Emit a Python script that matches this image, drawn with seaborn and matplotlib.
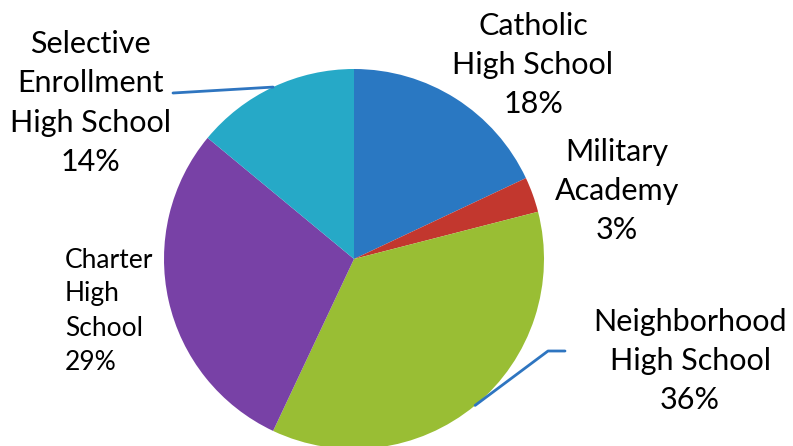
import numpy as np
import seaborn as sns
import matplotlib.pyplot as plt

# Dados do gráfico
categorias = ["Catholic\nHigh School", "Military\nAcademy", "Neighborhood\nHigh School",
              "Charter\nHigh\nSchool", "Selective\nEnrollment\nHigh School"]
percentuais = [18, 3, 36, 29, 14]
cores = ["#2A78C2", "#C2372E", "#99BE34", "#7841A6", "#26A9C7"]

sns.set_theme(style="white")
plt.rcParams['font.family'] = ['Lato', 'DejaVu Sans']

fig = plt.figure(figsize=(7.93, 4.46), dpi=100)
ax = fig.add_axes([0, 0, 1, 1])

cx, cy, raio = 354, 187, 190
wedges, _ = ax.pie(percentuais, colors=cores, startangle=90, counterclock=False,
                   center=(cx, cy), radius=raio, frame=True,
                   wedgeprops=dict(linewidth=0))
ax.set_xlim(0, 793)
ax.set_ylim(0, 446)
ax.set_aspect("equal")
ax.axis("off")

def ponto_borda(w):
    ang = np.deg2rad((w.theta1 + w.theta2) / 2)
    return cx + raio * np.cos(ang), cy + raio * np.sin(ang)

# posições dos rótulos (pixels a partir do topo)
pos = [(533, 65, "center"), (617, 191, "center"), (690, 361, "center"),
       (65, 311, "left"), (90, 103, "center")]
for i, (cat, p) in enumerate(zip(categorias, percentuais)):
    x, y, ha = pos[i]
    tam = 19 if i == 3 else 22
    esp = 1.45 if i == 3 else 1.48
    ax.text(x, 446 - y, f"{cat}\n{p}%", ha=ha, va="center", fontsize=tam,
            color="black", linespacing=esp)

# linhas de chamada
lc = "#2E75C0"
px, py = ponto_borda(wedges[2])
ax.plot([px, 548, 565], [py, 446 - 351, 446 - 351], color=lc, lw=2)
px, py = ponto_borda(wedges[4])
ax.plot([px, 173], [py, 446 - 93], color=lc, lw=2)

fig.savefig("out.png", dpi=100)
